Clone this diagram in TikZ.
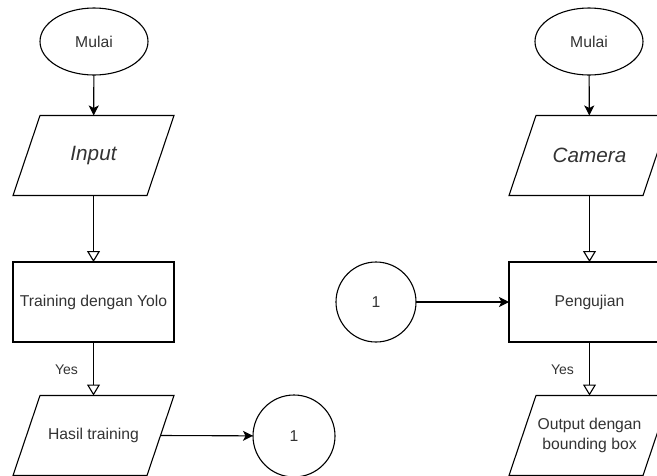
\documentclass[tikz,border=0pt]{standalone}
\usepackage{fontspec}
\setmainfont{Liberation Sans}
\usetikzlibrary{shapes.geometric,arrows.meta}
\definecolor{txt}{HTML}{333333}
\newcommand\drawpara[1]{\draw[line width=1.1pt, line join=miter] ([xshift=27pt]#1.north west) -- (#1.north east) -- ([xshift=-27pt]#1.south east) -- (#1.south west) -- cycle;}
\begin{document}
\begin{tikzpicture}[x=1pt,y=-1pt,
  base/.style={draw=black, line width=1.1pt, text=txt, font=\fontsize{15.7}{20.5}\selectfont, inner sep=0pt, outer sep=0pt},
  startstop/.style={base, ellipse, minimum width=108pt, minimum height=67pt},
  io/.style={base, draw=none, rectangle, minimum width=161pt, minimum height=80pt},
  proc/.style={base, rectangle, minimum width=161pt, minimum height=80pt},
  conn/.style={base, circle},
  big/.style={font=\fontsize{20.7}{24}\selectfont\itshape},
  flow/.style={line width=1.1pt, draw=black, -{Stealth[length=10pt,width=10pt,inset=2.5pt]}},
  flowopen/.style={line width=1.1pt, draw=black, -{Triangle[open,length=11pt,width=13pt]}},
  yes/.style={text=txt, font=\fontsize{14}{16}\selectfont, inner sep=0pt}
]
\useasboundingbox (0,0) rectangle (657,475);
\fill[white] (0,0) rectangle (657,475);
\clip (0,0) rectangle (657,475);

% left column
\node[startstop] (m1) at (94,41.5) {Mulai};
\node[io, big] (in) at (93.5,155.5) {Input};
\drawpara{in}
\node[proc] (tr) at (93.5,302) {Training dengan Yolo};
\node[io] (ha) at (93.5,435.5) {Hasil training};
\drawpara{ha}
\node[conn, minimum size=82pt] (c1) at (294,436) {1};

% right column
\node[startstop] (m2) at (589,41.5) {Mulai};
\node[io, big] (cam) at (589.5,155.5) {Camera};
\drawpara{cam}
\node[proc] (pe) at (589.5,302) {Pengujian};
\node[io, align=center] (out) at (589.5,435.5) {Output dengan\\bounding box};
\drawpara{out}
\node[conn, minimum size=80pt] (c2) at (376,302) {1};

% connectors
\draw[flow] (m1) -- (in);
\draw[flowopen] (in) -- (tr);
\draw[flowopen] (tr) -- node[yes, pos=0.5, xshift=-27pt, yshift=-1pt] {Yes} (ha);
\draw[flow] ([xshift=-13.5pt]ha.east) -- (c1);

\draw[flow] (m2) -- (cam);
\draw[flowopen] (cam) -- (pe);
\draw[flowopen] (pe) -- node[yes, pos=0.5, xshift=-27pt, yshift=-1pt] {Yes} (out);
\draw[flow] (c2) -- (pe);
\end{tikzpicture}
\end{document}
